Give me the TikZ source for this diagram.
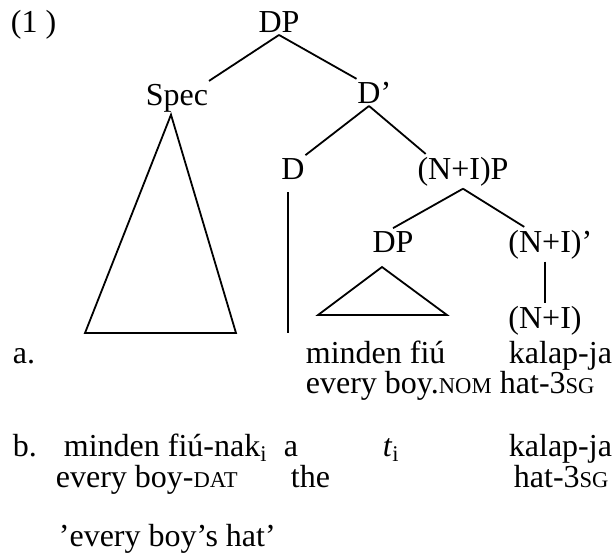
\documentclass[tikz,border=0pt]{standalone}
\usepackage{fontspec}
\setmainfont{Liberation Serif}
\usetikzlibrary{calc}
\newcommand{\glosscap}[1]{{\fontsize{11.3}{14}\selectfont #1}}

\begin{document}
\begin{tikzpicture}[x=0.5pt, y=-0.5pt, line width=0.9pt,
    font=\fontsize{16}{19}\selectfont,
    cat/.style={anchor=base, inner xsep=0pt, inner ysep=1pt},
    txt/.style={anchor=base west, inner sep=0pt}]
    \useasboundingbox (0,0) rectangle (615,553);

    % Tree labels
    \node[txt] (num) at (10,32) {(1 )};
    \node[cat] (dp) at (279,32) {DP};
    \node[cat] (spec) at (177,105) {Spec};
    \node[cat] (dbar) at (369,103) {D\rlap{’}};
    \node[cat] (d) at (293,179) {D};
    \node[cat] (nip) at (463,179) {(N+I)P};
    \node[cat] (dpb) at (393,252) {DP};
    \node[cat] (nibar) at (545,252) {(N+I)\rlap{’}};
    \node[cat] (ni) at (545,328) {(N+I)};

    % Branches
    \draw (dp.south) -- (spec.north east);
    \draw (dp.south) -- (dbar.north west);
    \draw (dbar.south) -- (d.north east);
    \draw (dbar.south) -- (nip.155);
    \draw (nip.south) -- (dpb.north);
    \draw (nip.south) -- (nibar.140);
    \draw (nibar.south) -- (ni.north);

    % Triangles and the empty D
    \coordinate (specl) at (85,333);
    \coordinate (specr) at (236,333);
    \draw ([xshift=-3pt]spec.south) -- (specl) -- (specr) -- cycle;
    \coordinate (dpt) at (382,267);
    \coordinate (dpl) at (318,315);
    \coordinate (dpr) at (447,315);
    \draw (dpt) -- (dpl) -- (dpr) -- cycle;
    \coordinate (dtop) at (288,192);
    \coordinate (dbot) at (288,333);
    \draw (dtop) -- (dbot);

    % Example a
    \node[txt] (exa) at (12,363) {a.};
    \node[txt] (wa1) at (305,363) {minden fiú};
    \node[txt] (wa2) at (508,363) {kalap-ja};
    \node[txt] (ga1) at (305,393) {every boy.\glosscap{NOM}};
    \node[txt] (ga2) at (499,393) {hat-3\glosscap{SG}};

    % Example b
    \node[txt] (exb) at (12,456) {b.};
    \node[txt] (wb1) at (63,456) {minden fiú-nak\textsubscript{i}};
    \node[txt] (wb2) at (283,456) {a};
    \node[txt] (wb3) at (382,456) {\textit{t}\textsubscript{i}};
    \node[txt] (wb4) at (508,456) {kalap-ja};
    \node[txt] (gb1) at (55,487) {every boy-\glosscap{DAT}};
    \node[txt] (gb2) at (290,487) {the};
    \node[txt] (gb3) at (513,487) {hat-3\glosscap{SG}};
    \node[txt] (trans) at (58,546) {’every boy’s hat’};
\end{tikzpicture}
\end{document}
